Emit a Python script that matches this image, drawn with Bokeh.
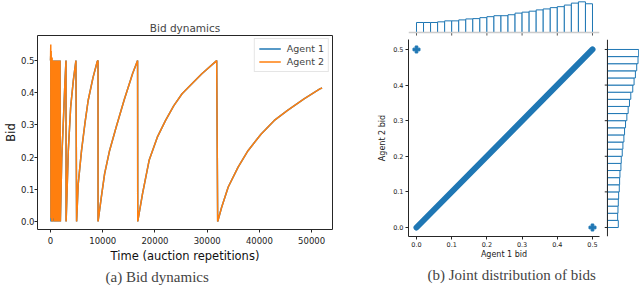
import numpy as np
from bokeh.plotting import figure
from bokeh.layouts import row, column
from bokeh.models import Range1d, NumeralTickFormatter, BasicTickFormatter, Title, Span
from bokeh.embed import file_html
from bokeh.resources import INLINE

# ---------------- data ----------------
time_steps = [
    0, 40, 80, 120, 160, 200, 250, 300, 350, 400, 450, 500, 560, 620, 680, 740,
    800, 860, 920, 980, 1040, 1100, 1160, 1220, 1280, 1340, 1400, 1460, 1520,
    1580, 1640, 1700, 1760, 1820, 1880,
    2150, 2500, 2750, 2960, 2980,
    3400, 3850, 4360, 4860, 4990,
    5300, 5930, 6570, 7200, 8140, 8960, 9090, 9100,
    9720, 10350, 11300, 12560, 14140, 15720, 16670, 16700,
    17610, 18880, 20450, 22030, 23610, 25190, 27080, 28980, 31820, 32010,
    32770, 34030, 35920, 37820, 40340, 42860, 45390, 48550, 51580, 52000,
]
agent2_bid = [
    0.50, 0.55, 0.01, 0.53, 0.02, 0.50, 0.00, 0.51, 0.03, 0.50, 0.00, 0.49,
    0.02, 0.50, 0.01, 0.47, 0.00, 0.50, 0.02, 0.44, 0.00, 0.50, 0.01, 0.38,
    0.00, 0.50, 0.02, 0.50, 0.00, 0.46, 0.01, 0.50, 0.00, 0.50, 0.00,
    0.20, 0.33, 0.43, 0.50, 0.00,
    0.22, 0.355, 0.438, 0.50, 0.00,
    0.117, 0.22, 0.303, 0.376, 0.448, 0.498, 0.50, 0.00,
    0.075, 0.148, 0.22, 0.293, 0.38, 0.46, 0.50, 0.00,
    0.086, 0.19, 0.262, 0.314, 0.36, 0.397, 0.428, 0.459, 0.50, 0.00,
    0.044, 0.107, 0.169, 0.22, 0.272, 0.314, 0.345, 0.381, 0.412, 0.415,
]
agent1_bid = [
    0.50, 0.52, 0.00, 0.50, 0.03, 0.48, 0.01, 0.50, 0.00, 0.50, 0.02, 0.50,
    0.00, 0.48, 0.03, 0.50, 0.00, 0.49, 0.00, 0.50, 0.01, 0.47, 0.00, 0.50,
    0.02, 0.42, 0.00, 0.50, 0.01, 0.50, 0.00, 0.48, 0.02, 0.50, 0.00,
    0.20, 0.33, 0.43, 0.50, 0.00,
    0.22, 0.355, 0.438, 0.50, 0.00,
    0.117, 0.22, 0.303, 0.376, 0.448, 0.498, 0.50, 0.00,
    0.075, 0.148, 0.22, 0.293, 0.38, 0.46, 0.50, 0.00,
    0.086, 0.19, 0.262, 0.314, 0.36, 0.397, 0.428, 0.459, 0.50, 0.00,
    0.044, 0.107, 0.169, 0.22, 0.272, 0.314, 0.345, 0.381, 0.412, 0.415,
]
time_ticks = [0, 10000, 20000, 30000, 40000, 50000]
bid_ticks = [0.0, 0.1, 0.2, 0.3, 0.4, 0.5]

hist_edges = [round(v, 3) for v in np.linspace(0.0, 0.5, 26)]
agent1_hist = [310, 310, 310, 330, 360, 360, 390, 420, 430, 460, 490, 520, 520,
               550, 600, 630, 660, 700, 730, 770, 800, 850, 910, 950, 890]
agent2_hist = [330, 310, 320, 330, 340, 360, 370, 380, 410, 420, 450, 470, 500,
               520, 550, 590, 630, 670, 710, 770, 810, 850, 890, 930, 950]
diag_bids = [0.0, 0.5]
corner_agent1 = [0.0, 0.5]
corner_agent2 = [0.5, 0.0]

BLUE = "#1f77b4"
ORANGE = "#ff7f0e"
DARK = "#262626"
SANS = "DejaVu Sans"
SERIF = "Liberation Serif"

# ---------------- (a) bid dynamics ----------------
p1 = figure(width=334, height=286, output_backend="svg", toolbar_location=None,
            x_range=Range1d(-2500, 54000), y_range=Range1d(-0.025, 0.578),
            min_border_left=34, min_border_right=2, min_border_top=35,
            min_border_bottom=57, title="Bid dynamics")
p1.title.text_font = SANS
p1.title.text_font_size = "10.5px"
p1.title.text_font_style = "normal"
p1.title.align = "center"
p1.title.standoff = 3
p1.line(time_steps, agent1_bid, color=BLUE, line_width=1.5, legend_label="Agent 1")
p1.line(time_steps, agent2_bid, color=ORANGE, line_width=1.5, legend_label="Agent 2")
p1.grid.visible = False
p1.outline_line_color = DARK
p1.outline_line_width = 1
for ax in (p1.xaxis[0], p1.yaxis[0]):
    ax.axis_line_color = None
    ax.major_tick_line_color = DARK
    ax.major_tick_out = 3
    ax.major_tick_in = 0
    ax.minor_tick_line_color = None
    ax.major_label_text_font = SANS
    ax.major_label_text_font_size = "8.5px"
    ax.major_label_text_color = "#222222"
    ax.major_label_standoff = 0
    ax.axis_label_text_font = SANS
    ax.axis_label_text_font_size = "11.5px"
    ax.axis_label_text_font_style = "normal"
    ax.axis_label_text_color = "#111111"
    ax.axis_label_standoff = 0
p1.xaxis.major_label_standoff = 4
p1.xaxis.axis_label_standoff = 2
p1.xaxis.ticker = time_ticks
p1.xaxis.formatter = BasicTickFormatter(use_scientific=False)
p1.yaxis.ticker = bid_ticks
p1.yaxis.formatter = NumeralTickFormatter(format="0.0")
p1.xaxis.axis_label = "Time (auction repetitions)"
p1.yaxis.axis_label = "Bid"
p1.legend.location = "top_right"
p1.legend.label_text_font = SANS
p1.legend.label_text_font_size = "9.5px"
p1.legend.label_height = 11
p1.legend.glyph_height = 11
p1.legend.glyph_width = 22
p1.legend.spacing = 2
p1.legend.padding = 4
p1.legend.margin = 3
p1.legend.label_standoff = 6
p1.legend.border_line_color = "#cccccc"
p1.legend.background_fill_alpha = 0.8
p1.add_layout(Title(text="(a) Bid dynamics", align="left", text_font=SERIF,
                    text_font_size="15px", text_font_style="normal",
                    offset=68, standoff=2), "below")

# ---------------- (b) joint distribution ----------------
xr = Range1d(-0.0227, 0.5199)
yr = Range1d(-0.0253, 0.528)

m = figure(width=270, height=247, output_backend="svg", toolbar_location=None,
           x_range=xr, y_range=yr, min_border_left=74, min_border_right=5,
           min_border_top=0, min_border_bottom=50)
m.line(diag_bids, diag_bids, color=BLUE, line_width=6, line_cap="round")
m.scatter(corner_agent1, corner_agent2, marker="plus", size=7, color=BLUE)
m.grid.visible = False
m.outline_line_color = None
for ax in (m.xaxis[0], m.yaxis[0]):
    ax.axis_line_color = DARK
    ax.major_tick_line_color = DARK
    ax.major_tick_out = 3
    ax.major_tick_in = 0
    ax.minor_tick_line_color = None
    ax.major_label_text_font = SANS
    ax.major_label_text_font_size = "6.5px"
    ax.major_label_text_color = "#222222"
    ax.major_label_standoff = 2
    ax.axis_label_text_font = SANS
    ax.axis_label_text_font_size = "8px"
    ax.axis_label_text_font_style = "normal"
    ax.axis_label_text_color = "#222222"
    ax.axis_label_standoff = 3
    ax.ticker = bid_ticks
    ax.formatter = NumeralTickFormatter(format="0.0")
m.xaxis.axis_label_standoff = 0
m.xaxis.axis_label = "Agent 1 bid"
m.yaxis.axis_label = "Agent 2 bid"
m.add_layout(Title(text="(b) Joint distribution of bids", align="left",
                   text_font=SERIF, text_font_size="15px",
                   text_font_style="normal", offset=19, standoff=6), "below")

# top marginal histogram (agent 1)
t = figure(width=306, height=39, output_backend="svg", toolbar_location=None,
           x_range=xr, y_range=Range1d(-217, 991),
           x_axis_location=None, y_axis_location=None,
           min_border_left=74, min_border_right=41, min_border_top=0,
           min_border_bottom=0)
t.quad(left=hist_edges[:-1], right=hist_edges[1:], bottom=0, top=agent1_hist,
       fill_color="white", line_color=BLUE, line_width=1)
t.segment(x0=bid_ticks, y0=[0] * len(bid_ticks), x1=bid_ticks,
          y1=[-95] * len(bid_ticks), line_color="#555555", line_width=1)
t.add_layout(Span(location=0, dimension="width", line_color="#cccccc", line_width=1.5))
t.grid.visible = False
t.outline_line_color = None

# right marginal histogram (agent 2)
r = figure(width=35, height=247, output_backend="svg", toolbar_location=None,
           x_range=Range1d(-90, 975), y_range=yr,
           x_axis_location=None, y_axis_location=None,
           min_border_left=0, min_border_right=0, min_border_top=0,
           min_border_bottom=50)
r.quad(left=0, right=agent2_hist, bottom=hist_edges[:-1], top=hist_edges[1:],
       fill_color="white", line_color=BLUE, line_width=1)
r.segment(x0=[-90] * len(bid_ticks), y0=bid_ticks, x1=[0] * len(bid_ticks),
          y1=bid_ticks, line_color=DARK, line_width=1)
r.add_layout(Span(location=0, dimension="height", line_color=DARK, line_width=1))
r.grid.visible = False
r.outline_line_color = None

layout = row(p1, column(t, row(m, r)))
open("out.html", "w").write(file_html(layout, INLINE))
